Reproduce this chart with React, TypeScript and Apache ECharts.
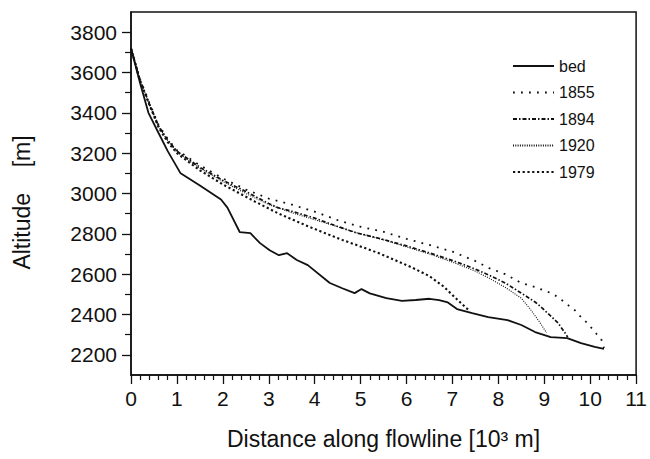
import React, { useEffect, useRef } from "react";
import * as echarts from "echarts";

// ---- data (distance in 10^3 m, altitude in m) ----
const bed: number[][] = [
  [0, 3720], [0.2, 3545], [0.38, 3400], [0.6, 3300], [0.8, 3210], [1.08, 3100],
  [1.5, 3040], [1.96, 2970], [2.1, 2930], [2.37, 2808], [2.6, 2803], [2.81, 2754],
  [3.02, 2719], [3.22, 2694], [3.4, 2704], [3.61, 2670], [3.85, 2645], [4.33, 2556],
  [4.6, 2530], [4.87, 2506], [5.02, 2526], [5.2, 2505], [5.56, 2481], [5.9, 2468],
  [6.2, 2472], [6.5, 2478], [6.71, 2471], [6.9, 2460], [7.1, 2427], [7.43, 2407],
  [7.78, 2387], [8.2, 2372], [8.5, 2348], [8.8, 2313], [9.14, 2288], [9.5, 2283],
  [9.8, 2258], [10.1, 2239], [10.3, 2230],
];
const s1855: number[][] = [
  [0, 3720], [0.2, 3565], [0.4, 3450], [0.6, 3340], [0.8, 3270], [1.0, 3215],
  [1.5, 3140], [2.0, 3075], [2.5, 3020], [3.0, 2975], [3.5, 2945], [4.0, 2910],
  [4.5, 2868], [5.0, 2835], [5.5, 2810], [6.0, 2775], [6.5, 2745], [7.0, 2712],
  [7.5, 2665], [7.8, 2630], [8.15, 2600], [8.5, 2556], [8.8, 2536], [9.15, 2506],
  [9.3, 2486], [9.5, 2450], [9.65, 2425], [9.8, 2387], [9.96, 2353], [10.1, 2313],
  [10.24, 2278], [10.3, 2234],
];
const s1894: number[][] = [
  [0, 3720], [0.2, 3562], [0.4, 3445], [0.6, 3335], [0.8, 3265], [1.0, 3210],
  [1.5, 3130], [2.0, 3065], [2.5, 3010], [3.0, 2950], [3.2, 2930], [3.5, 2912],
  [4.0, 2878], [4.3, 2853], [4.9, 2805], [5.4, 2778], [6.0, 2740], [6.45, 2709],
  [7.1, 2660], [7.5, 2625], [7.8, 2595], [8.15, 2556], [8.5, 2506], [8.8, 2462],
  [8.93, 2437], [9.12, 2397], [9.3, 2358], [9.44, 2313], [9.51, 2288],
];
const s1920: number[][] = [
  [0, 3720], [0.2, 3560], [0.4, 3440], [0.6, 3332], [0.8, 3262], [1.0, 3205],
  [1.5, 3125], [2.0, 3060], [2.5, 3000], [3.0, 2945], [3.5, 2905], [4.0, 2870],
  [4.5, 2835], [5.0, 2800], [5.5, 2770], [6.0, 2735], [6.5, 2700], [7.0, 2660],
  [7.5, 2615], [7.8, 2580], [8.14, 2536], [8.5, 2481], [8.71, 2422], [8.9, 2362],
  [9.01, 2323], [9.05, 2310],
];
const s1979: number[][] = [
  [0, 3720], [0.2, 3555], [0.4, 3440], [0.6, 3328], [0.8, 3255], [1.0, 3200],
  [1.5, 3115], [2.0, 3045], [2.7, 2960], [3.2, 2902], [3.9, 2833], [4.6, 2770],
  [5.4, 2704], [6.1, 2635], [6.5, 2590], [6.8, 2540], [7.05, 2486], [7.3, 2432],
  [7.38, 2418],
];

const yLabelTicks = [2200, 2400, 2600, 2800, 3000, 3200, 3400, 3600, 3800];
const yMinorTicks = [2300, 2500, 2700, 2900, 3100, 3300, 3500, 3700];

const FONT = "Liberation Sans, Arial, sans-serif";
const INK = "#111";

export default function App() {
  const ref = useRef<HTMLDivElement>(null);
  useEffect(() => {
    if (!ref.current) return;
    const chart = echarts.init(ref.current, undefined, { renderer: "svg" });
    const mk = (name: string, data: number[][], type: any, width: number) => ({
      name,
      type: "line",
      data,
      symbol: "none",
      showSymbol: false,
      smooth: false,
      lineStyle: { color: INK, width, type },
      itemStyle: { color: INK },
      z: 3,
    });
    const plain = (v: number) => String(v);
    chart.setOption({
      animation: false,
      backgroundColor: "#fff",
      textStyle: { fontFamily: FONT, color: INK },
      grid: {
        left: 131,
        right: 12,
        top: 12,
        bottom: 84,
        show: true,
        borderColor: INK,
        borderWidth: 1.5,
        containLabel: false,
      },
      legend: {
        orient: "vertical",
        left: 512,
        top: 58,
        padding: 0,
        itemWidth: 41,
        itemHeight: 14,
        itemGap: 10.5,
        itemStyle: { opacity: 0 },
        textStyle: { fontSize: 16, color: INK, fontFamily: FONT, lineHeight: 14 },
        data: ["bed", "1855", "1894", "1920", "1979"],
      },
      xAxis: {
        type: "value",
        min: 0,
        max: 11,
        interval: 1,
        name: "Distance along flowline [10³ m]",
        nameLocation: "middle",
        nameGap: 52,
        nameTextStyle: { fontSize: 23, color: INK, fontFamily: FONT },
        axisLine: { show: true, onZero: false, lineStyle: { color: INK, width: 1.5 } },
        axisTick: { show: true, length: 9, lineStyle: { color: INK, width: 1.3 } },
        minorTick: { show: true, splitNumber: 5, length: 5, lineStyle: { color: INK, width: 1.2 } },
        axisLabel: { fontSize: 21, color: INK, margin: 13, fontFamily: FONT, showMaxLabel: true, formatter: plain },
        splitLine: { show: false },
        minorSplitLine: { show: false },
      },
      yAxis: [
        {
          type: "value",
          min: 2100,
          max: 3900,
          interval: 100,
          name: "Altitude    [m]",
          nameLocation: "middle",
          nameRotate: 90,
          nameGap: 98,
          nameTextStyle: { fontSize: 23, color: INK, fontFamily: FONT, padding: [0, 18, 0, 0] },
          axisLine: { show: true, onZero: false, lineStyle: { color: INK, width: 1.5 } },
          axisTick: { show: true, length: 9, customValues: yLabelTicks, lineStyle: { color: INK, width: 1.3 } },
          axisLabel: { fontSize: 21, color: INK, margin: 14, fontFamily: FONT, customValues: yLabelTicks, formatter: plain },
          splitLine: { show: false },
        },
        {
          type: "value",
          min: 2100,
          max: 3900,
          interval: 100,
          position: "left",
          axisLine: { show: false },
          axisTick: { show: true, length: 6, customValues: yMinorTicks, lineStyle: { color: INK, width: 1.2 } },
          axisLabel: { show: false },
          splitLine: { show: false },
        },
      ],
      series: [
        mk("bed", bed, "solid", 1.8),
        mk("1855", s1855, [1.8, 6.2], 1.8),
        mk("1894", s1894, [4, 2, 1.5, 2], 1.7),
        mk("1920", s1920, [1, 1.3], 1.1),
        mk("1979", s1979, [2.2, 2.6], 2.1),
      ],
    });
    return () => chart.dispose();
  }, []);
  return (
    <div
      ref={ref}
      style={{ position: "fixed", left: 0, top: 0, width: 650, height: 459 }}
    />
  );
}
